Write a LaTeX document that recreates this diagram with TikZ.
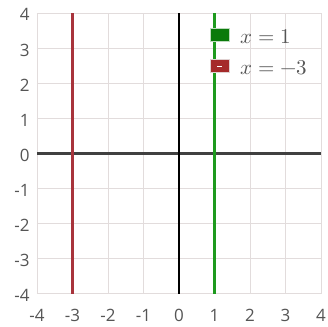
\documentclass[tikz,border=0pt]{standalone}
\usepackage{fontspec}
\setmainfont{Open Sans}
\usepackage{unicode-math}
\setmathfont{Latin Modern Math}
\definecolor{gridc}{HTML}{E2DCDC}
\definecolor{redl}{HTML}{A8343C}
\definecolor{greenl}{HTML}{1E9A1E}
\definecolor{greenb}{HTML}{0A7A0A}
\definecolor{redb}{HTML}{A52A2A}
\definecolor{tickc}{HTML}{555555}
\definecolor{legc}{HTML}{555555}
\begin{document}
\begin{tikzpicture}[x=35.5pt,y=35.1pt,
  ticklab/.style={font=\fontsize{17}{17}\selectfont, text=tickc, inner sep=0pt},
  leglab/.style={font=\fontsize{21}{21}\selectfont, text=legc, anchor=west, inner sep=0pt},
  legbox/.style={minimum width=19pt, minimum height=13pt, inner sep=0pt, line width=1pt}]
\useasboundingbox (-5.042,-4.915) rectangle (4.197,4.373);
\fill[white] (-5.042,-4.915) rectangle (4.197,4.373);
% grid
\foreach \g in {-4,...,4} {
  \draw[gridc, line width=0.9pt] (\g,-4) -- (\g,4);
  \draw[gridc, line width=0.9pt] (-4,\g) -- (4,\g);
}
% axes
\draw[black!75, line width=3pt] (-4,0) -- (4,0);
\draw[black, line width=2pt] (0,-4) -- (0,4);
% lines
\draw[redl, line width=2.2pt] (-3,-4) -- (-3,4);
\draw[greenl, line width=2.2pt] (1,-4) -- (1,4);
% tick labels
\foreach \v in {-4,...,4} {
  \node[ticklab, anchor=center] (xl\v) at (\v,-4.6) {\v};
  \node[ticklab, anchor=east] (yl\v) at (-4.2,\v-0.05) {\v};
}
% legend
\node[legbox, fill=greenb, draw=green!30!gray!40] (gbox) at (1.141,3.362) {};
\node[legbox, fill=redb, draw=red!20!gray!30] (rbox) at (1.141,2.479) {};
\draw[white, line width=1pt] ([xshift=-2.5pt]rbox.center) -- ([xshift=2.5pt]rbox.center);
\node[leglab] (gtxt) at (1.718,3.33) {$x=1$};
\node[leglab] (rtxt) at (1.718,2.45) {$x=-3$};
\end{tikzpicture}
\end{document}
